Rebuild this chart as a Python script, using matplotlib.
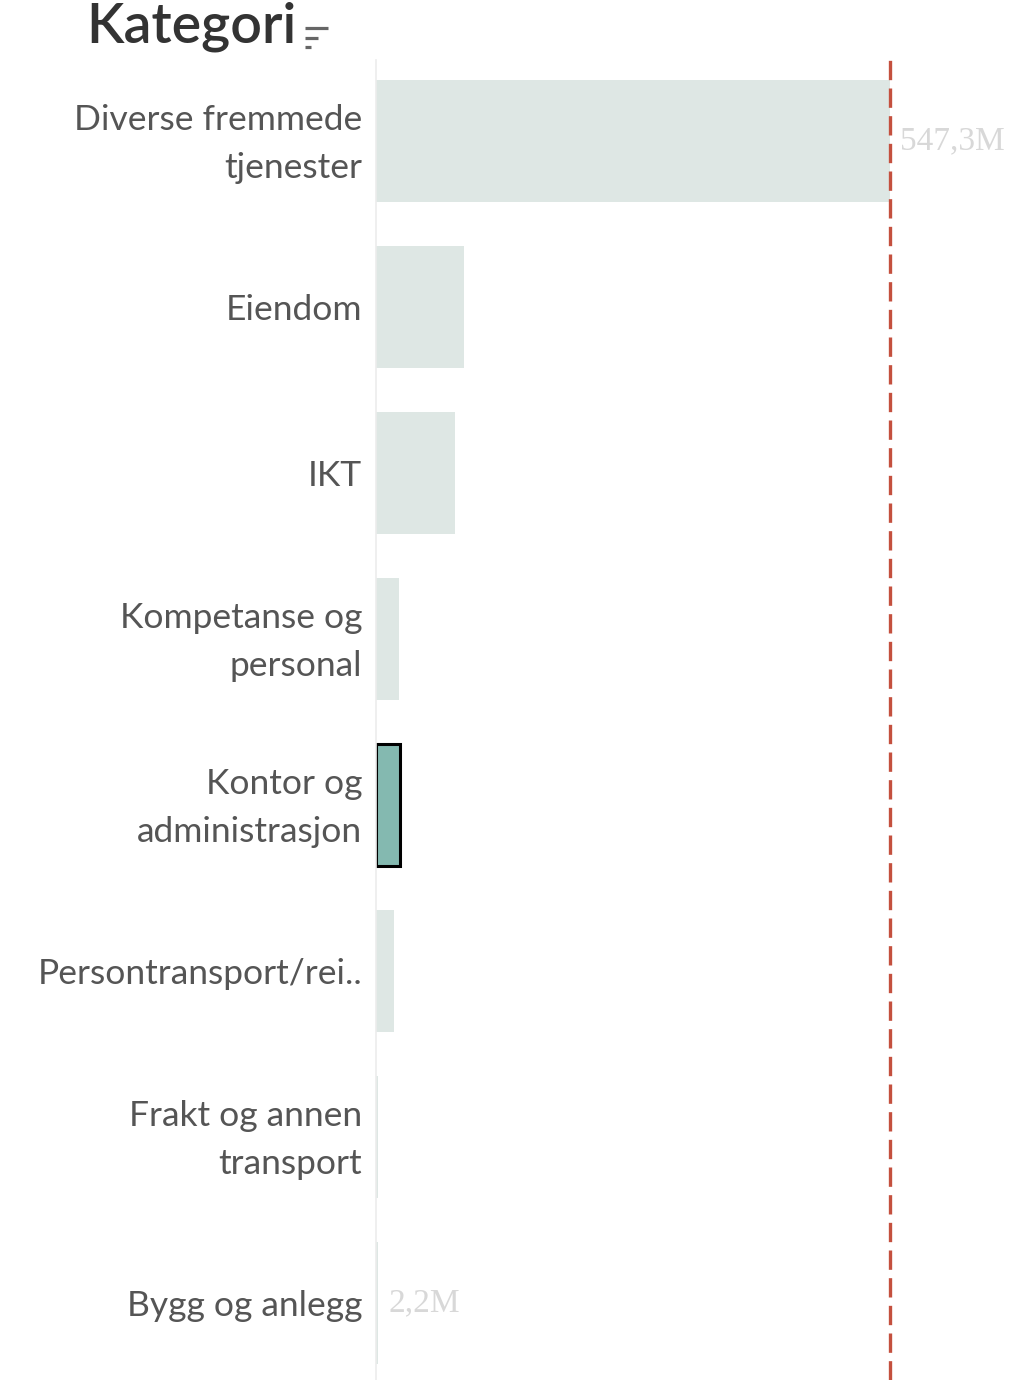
import matplotlib.pyplot as plt
from matplotlib.lines import Line2D
from matplotlib.transforms import ScaledTranslation

kategorier = ['Diverse fremmede\ntjenester', 'Eiendom', 'IKT', 'Kompetanse og\npersonal',
              'Kontor og\nadministrasjon', 'Persontransport/rei..', 'Frakt og annen\ntransport',
              'Bygg og anlegg']
verdier = [547.3, 93.7, 84.1, 24.5, 25.5, 19.2, 2.5, 2.2]  # millioner
valgt = 'Kontor og\nadministrasjon'
etiketter = {0: '547,3M', 7: '2,2M'}

fig = plt.figure(figsize=(10.16, 13.8), dpi=100)
ax = fig.add_axes([376 / 1016, 0, 640 / 1016, 1320 / 1380])

pos = list(range(len(kategorier)))
farger = ['#84b9b0' if k == valgt else '#dee7e4' for k in kategorier]
kanter = ['black' if k == valgt else 'none' for k in kategorier]
lw = [2.2 if k == valgt else 0 for k in kategorier]
ax.barh(pos, verdier, height=0.735, color=farger, edgecolor=kanter, linewidth=lw)

maks = max(verdier)
ax.axvline(maks, color='#c4503e', linewidth=2.4, dashes=(5.8, 2.5))

for i, tekst in etiketter.items():
    ax.annotate(tekst, xy=(verdier[i], i), xytext=(7.2, 0), textcoords='offset points',
                va='center', ha='left', family='Liberation Serif', fontsize=24, color='#d8d8d8')

ax.set_xlim(0, maks * 640 / 514)
ax.set_ylim(7.464, -0.488)
ax.set_yticks(pos)
ax.set_yticklabels(kategorier, family='Lato', fontsize=25.5, color='#555555', linespacing=1.6)
ax.tick_params(axis='y', length=0, pad=10)
# flerlinjede etiketter havner litt for lavt
for lab in ax.get_yticklabels():
    if '\n' in lab.get_text():
        lab.set_transform(lab.get_transform() + ScaledTranslation(0, 0.08, fig.dpi_scale_trans))
ax.set_xticks([])
for s in ['top', 'right', 'bottom']:
    ax.spines[s].set_visible(False)
ax.spines['left'].set_color('#ececec')
ax.spines['left'].set_linewidth(1.2)

fig.text(86 / 1016, 1 - 43 / 1380, 'Kategori', family='Lato', fontsize=40,
         weight='semibold', color='#333333', va='baseline', ha='left')

# sorteringsikon
for y, x1 in [(28, 328), (38, 318), (47, 311)]:
    fig.add_artist(Line2D([305 / 1016, x1 / 1016], [1 - y / 1380, 1 - y / 1380],
                          color='#666666', linewidth=2.3, solid_capstyle='butt'))

plt.savefig('out.png')
plt.close()
